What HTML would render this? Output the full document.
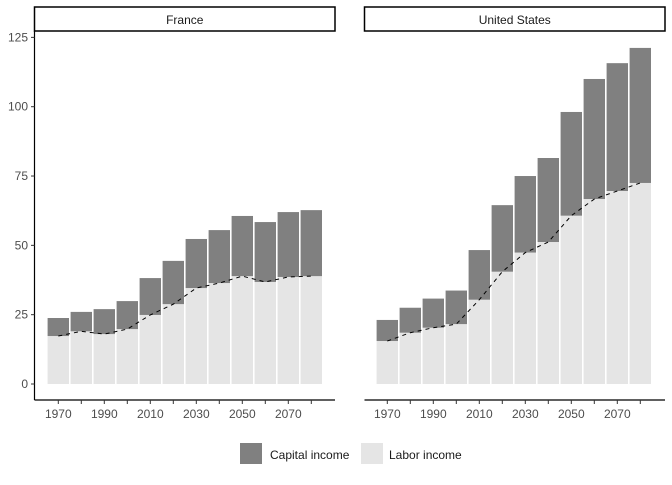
<!DOCTYPE html>
<html><head><meta charset="utf-8"><style>
body{margin:0;background:#fff;font-family:"Liberation Sans",sans-serif}
text{font-family:"Liberation Sans",sans-serif}
</style></head><body>
<svg id="chart" width="672" height="480" xmlns="http://www.w3.org/2000/svg"></svg>
<script>
const years=[1970,1980,1990,2000,2010,2020,2030,2040,2050,2060,2070,2080];
const franceTotal=[23.8,26,27,29.9,38.2,44.4,52.3,55.5,60.6,58.4,62,62.7];
const franceLabor=[17.3,19,18,19.8,24.9,28.8,34.6,36.4,38.9,36.8,38.6,38.9];
const usTotal=[23.1,27.5,30.8,33.7,48.3,64.5,75,81.5,98.1,110,115.7,121.2];
const usLabor=[15.5,18.5,20.3,21.6,30.4,40.5,47.4,51.2,60.7,66.7,69.6,72.5];
const yTicks=[0,25,50,75,100,125];
const xLabels=[1970,1990,2010,2030,2050,2070];
const legendLabels=["Capital income","Labor income"];

const NS="http://www.w3.org/2000/svg";
const svg=document.getElementById('chart');
function mk(tag,attrs,parent){const e=document.createElementNS(NS,tag);for(const k in attrs)e.setAttribute(k,attrs[k]);(parent||svg).appendChild(e);return e;}
const y=v=>384-v*2.773;
const panels=[{name:'France',x0:34.5,x1:335,off:0,total:franceTotal,labor:franceLabor,key:'france'},
{name:'United States',x0:364.5,x1:665,off:329,total:usTotal,labor:usLabor,key:'us'}];
panels.forEach(p=>{
 const x=yr=>58.3+p.off+(yr-1970)*2.3;
 const g=mk('g',{});
 
 
 const strip=mk('rect',{x:p.x0,y:7,width:p.x1-p.x0,height:24,fill:'#fff',stroke:'#000','stroke-width':1.5},g);
 
 
 const st=mk('text',{x:(p.x0+p.x1)/2,y:24,'text-anchor':'middle','font-size':12,fill:'#1a1a1a'},g);
 st.textContent=p.name;
 
 
 years.forEach((yr,i)=>{
  const cx=x(yr);
  const lb=mk('rect',{x:cx-10.7,y:y(p.labor[i]),width:21.4,height:y(0)-y(p.labor[i]),fill:'#e5e5e5'},g);
  
  
  const cb=mk('rect',{x:cx-10.7,y:y(p.total[i]),width:21.4,height:y(p.labor[i])-y(p.total[i]),fill:'#808080'},g);
  
  
 });
 const pts=years.map((yr,i)=>x(yr)+','+y(p.labor[i])).join(' ');
 const ln=mk('polyline',{points:pts,fill:'none',stroke:'#000','stroke-width':1,'stroke-dasharray':'4,4'},g);
 
 
 const ax=mk('line',{x1:p.x0,x2:p.x1,y1:400,y2:400,stroke:'#000','stroke-width':1.2},g);
 
 
 years.forEach(yr=>{mk('line',{x1:x(yr),x2:x(yr),y1:400,y2:404,stroke:'#333'},g);});
 xLabels.forEach(yr=>{
  const t=mk('text',{x:x(yr),y:418,'text-anchor':'middle','font-size':12,fill:'#4d4d4d'},g);
  t.textContent=yr;
  
  
 });
});
const yax=mk('line',{x1:34.5,x2:34.5,y1:31,y2:400,stroke:'#000','stroke-width':1.2});


yTicks.forEach(v=>{
 mk('line',{x1:31,x2:34.5,y1:y(v),y2:y(v),stroke:'#333'});
 const t=mk('text',{x:28,y:y(v)+4,'text-anchor':'end','font-size':12,fill:'#4d4d4d'});
 t.textContent=v;
 
 
});
const lg=mk('g',{});


[[240,'#808080',270],[361,'#e5e5e5',389]].forEach((d,i)=>{
 const r=mk('rect',{x:d[0],y:443,width:22,height:21,fill:d[1]},lg);
 
 
 const t=mk('text',{x:d[2],y:459,'font-size':12,fill:'#1a1a1a'},lg);
 t.textContent=legendLabels[i];
 
 
});
</script>
</body></html>
